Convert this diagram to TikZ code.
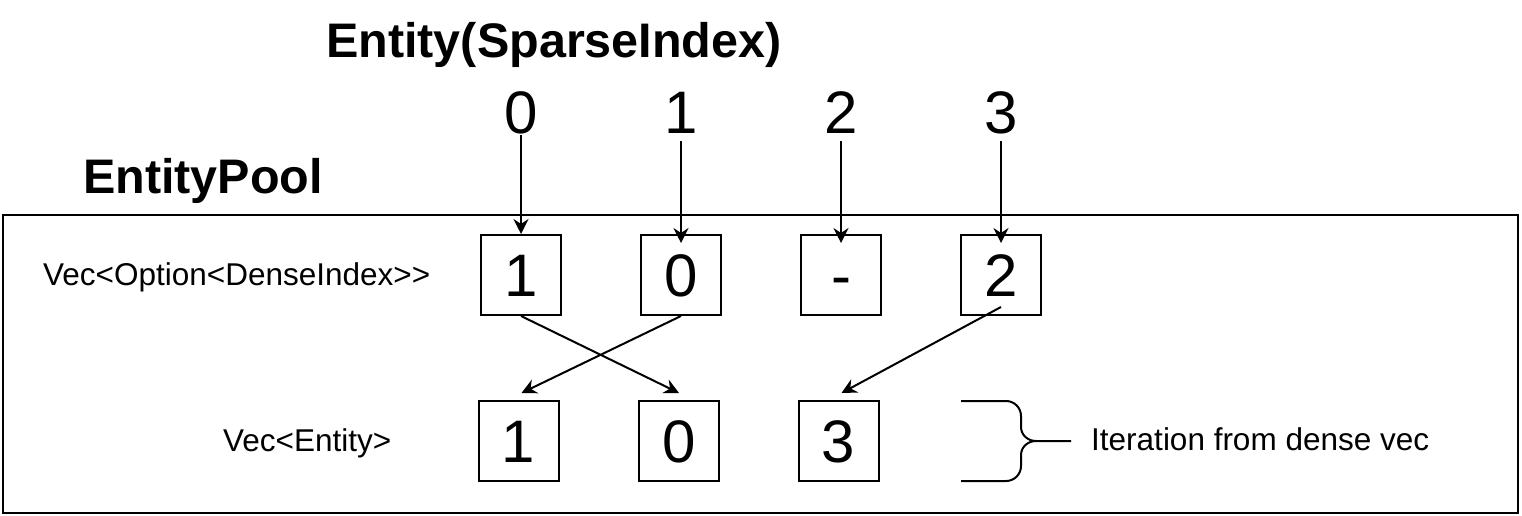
\documentclass[tikz,border=0pt]{standalone}
\usepackage{fontspec}
\setmainfont{Liberation Sans}
\usetikzlibrary{arrows.meta}
\begin{document}
\begin{tikzpicture}[x=1pt,y=1pt,
  ln/.style={line width=2pt,black},
  arr/.style={ln,-{Stealth[length=15pt,width=15pt,inset=5pt]}},
  cell/.style={draw,line width=2pt,minimum width=80pt,minimum height=80pt,inner sep=0pt,
    font=\fontsize{60}{72}\selectfont,text height=43pt,text depth=0pt},
  num/.style={inner sep=0pt,anchor=base,font=\fontsize{60}{72}\selectfont},
  head/.style={inner sep=0pt,anchor=base west,font=\fontsize{48.5}{58}\selectfont\bfseries},
  lbl/.style={inner sep=0pt,anchor=base west,font=\fontsize{31.5}{38}\selectfont}]
\useasboundingbox (0,0) rectangle (1522,-516);
% outer pool frame
\draw[ln] (3,-215) rectangle (1518,-513);
% headings
\node[head] (title) at (326,-58) {Entity(SparseIndex)};
\node[head] (pool) at (83,-193) {EntityPool};
% row labels
\node[lbl] (lsparse) at (43,-285) {Vec<Option<DenseIndex>{}>};
\node[lbl] (ldense) at (223,-451) {Vec<Entity>};
\node[lbl] (liter) at (1091,-450) {Iteration from dense vec};
% sparse indices
\node[num] (n0) at (521,-133) {0};
\node[num] (n1) at (681,-133) {1};
\node[num] (n2) at (841,-133) {2};
\node[num] (n3) at (1001,-133) {3};
% sparse vector cells
\node[cell] (a1) at (521,-275) {1};
\node[cell] (a0) at (681,-275) {0};
\node[cell] (am) at (841,-275) {-};
\node[cell] (a2) at (1001,-275) {2};
% dense vector cells
\node[cell] (b1) at (518.5,-441) {1};
\node[cell] (b0) at (679,-441) {0};
\node[cell] (b3) at (838.5,-441) {3};
% index arrows
\draw[arr] ([yshift=-2pt]n0.base) -- (a1.north);
\draw[arr] ([yshift=-8pt]n1.base) -- ([yshift=-9pt]a0.north);
\draw[arr] ([yshift=-8pt]n2.base) -- ([yshift=-9pt]am.north);
\draw[arr] ([yshift=-8pt]n3.base) -- ([yshift=-9pt]a2.north);
% sparse -> dense arrows
\draw[arr] (a1.south) -- ([yshift=7pt]b0.north);
\draw[arr] (a0.south) -- ([xshift=3pt,yshift=7pt]b1.north);
\draw[arr] ([yshift=9pt]a2.south) -- ([xshift=3pt,yshift=7pt]b3.north);
% curly brace
\coordinate (bt) at (961,-401);
\coordinate (bb) at (961,-481);
\coordinate (tip) at (1036,-441);
\coordinate (bend) at (1071,-441);
\draw[ln] (bt) -- (1006,-401) to[out=0,in=90] (1021,-416) -- (1021,-427) to[out=-90,in=180] (tip) -- (bend);
\draw[ln] (bb) -- (1006,-481) to[out=0,in=-90] (1021,-466) -- (1021,-455) to[out=90,in=180] (tip);
\end{tikzpicture}
\end{document}
